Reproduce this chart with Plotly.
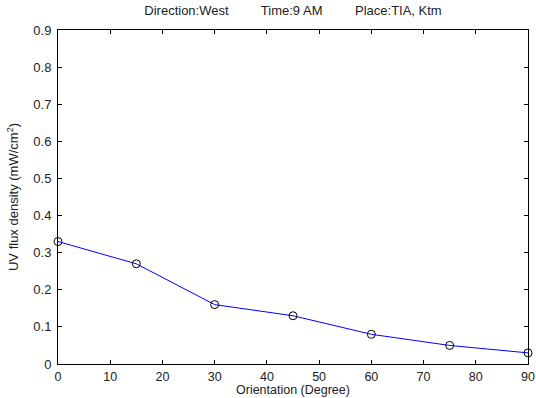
import plotly.graph_objects as go

# Orientation angle of the collector (degrees) and measured UV flux density
orientation_deg = [0, 15, 30, 45, 60, 75, 90]
uv_flux = [0.33, 0.27, 0.16, 0.13, 0.08, 0.05, 0.03]

x_ticks = [0, 10, 20, 30, 40, 50, 60, 70, 80, 90]
y_ticks = [0, 0.1, 0.2, 0.3, 0.4, 0.5, 0.6, 0.7, 0.8, 0.9]
y_tick_text = ["0", "0.1", "0.2", "0.3", "0.4", "0.5", "0.6", "0.7", "0.8", "0.9"]

font_family = "Liberation Sans, Arial, sans-serif"
text_color = "#222222"

fig = go.Figure()
fig.add_trace(go.Scatter(
    x=orientation_deg,
    y=uv_flux,
    mode="lines+markers",
    line=dict(color="#0000ff", width=1),
    marker=dict(symbol="circle-open", size=8, color="black", line=dict(width=1, color="black")),
    cliponaxis=False,
    showlegend=False,
))

axis_common = dict(
    showline=True,
    linecolor="black",
    linewidth=1,
    mirror="ticks",
    ticks="inside",
    ticklen=4,
    tickcolor="black",
    showgrid=False,
    zeroline=False,
    automargin=False,
)

fig.update_layout(
    width=536,
    height=398,
    margin=dict(l=58, r=8, t=30, b=34),
    paper_bgcolor="white",
    plot_bgcolor="white",
    font=dict(family=font_family, size=13, color=text_color),
    title=dict(
        text="Direction:West         Time:9 AM         Place:TIA, Ktm",
        x=0.5, xref="paper", xanchor="center",
        y=1, yref="container", yanchor="top", pad=dict(t=6),
        font=dict(family=font_family, size=13, color=text_color),
    ),
    xaxis=dict(
        range=[0, 90],
        tickvals=x_ticks,
        ticklabelstandoff=1,
        tickfont=dict(family=font_family, size=12.5, color=text_color),
        **axis_common,
    ),
    yaxis=dict(
        range=[0, 0.9],
        tickvals=y_ticks,
        ticktext=y_tick_text,
        title=dict(text="UV flux density (mW/cm<sup>2</sup>)", standoff=11,
                   font=dict(family=font_family, size=13, color=text_color)),
        ticklabelstandoff=3,
        tickfont=dict(family=font_family, size=13, color=text_color),
        **axis_common,
    ),
    annotations=[
        # x-axis title sitting at the bottom edge, below the tick labels
        dict(text="Orientation (Degree)", xref="paper", yref="paper",
             x=0.5, y=0, xanchor="center", yanchor="bottom", yshift=-34,
             borderpad=0, showarrow=False,
             font=dict(family=font_family, size=12.5, color=text_color)),
    ],
)

fig.write_html("out.html")
